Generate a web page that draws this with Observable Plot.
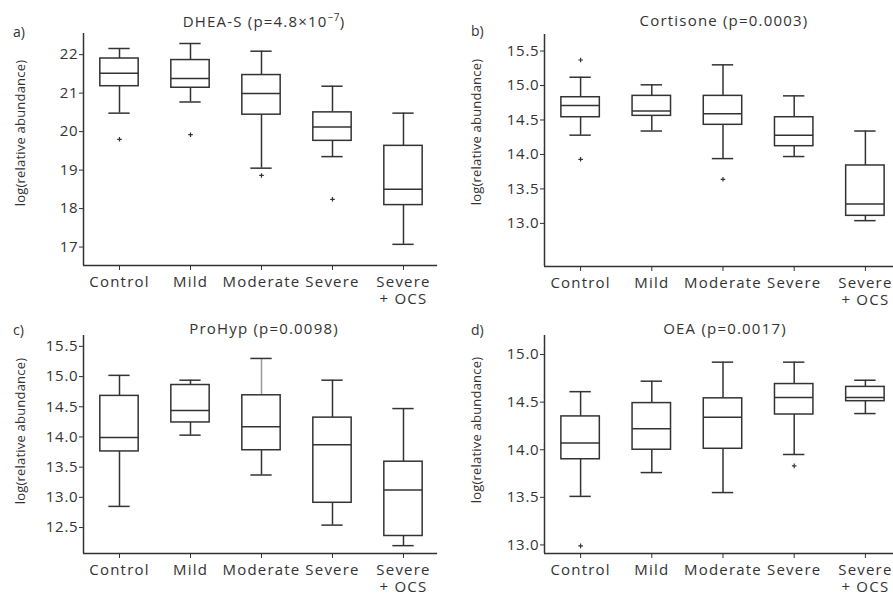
<!DOCTYPE html>
<html>
<head>
<meta charset="utf-8">
<script src="https://cdn.jsdelivr.net/npm/d3@7"></script>
<script src="https://cdn.jsdelivr.net/npm/@observablehq/plot@0.6"></script>
<style>
  html, body { margin: 0; padding: 0; background: #fff; overflow: hidden; }
  #wrap { position: relative; width: 893px; height: 593px; overflow: hidden; font-family: "Open Sans", sans-serif; color: #333; }
  .panel { position: absolute; }
  .panel svg { max-width: none !important; }
  .panel svg g[aria-label="x-axis tick label"] { letter-spacing: 1.2px; }
  .title { position: absolute; font-size: 15px; white-space: nowrap; transform: translate(-50%, -50%); letter-spacing: 1.2px; }
  .title sup { font-size: 10px; letter-spacing: 0.3px; }
  .letter { position: absolute; font-size: 14px; transform: translateY(-50%); }
  .ylab { position: absolute; font-size: 13px; white-space: nowrap; transform: translate(-50%, -50%) rotate(-90deg); letter-spacing: 0.2px; }
</style>
</head>
<body>
<div id="wrap"></div>
<script>
const groups = ["Control", "Mild", "Moderate", "Severe", "Severe\n+ OCS"];

// a) DHEA-S
const dheaLow  = [20.48, 20.77, 19.05, 19.35, 17.07];
const dheaQ1   = [21.18, 21.14, 20.44, 19.76, 18.09];
const dheaMed  = [21.52, 21.38, 20.99, 20.12, 18.50];
const dheaQ3   = [21.90, 21.86, 21.47, 20.50, 19.63];
const dheaHigh = [22.16, 22.29, 22.09, 21.18, 20.48];
const dheaOut  = [[19.80], [19.92], [18.86], [18.24], []];
const dheaTicks = [17, 18, 19, 20, 21, 22];

// b) Cortisone
const cortLow  = [14.28, 14.34, 13.94, 13.97, 13.04];
const cortQ1   = [14.54, 14.56, 14.43, 14.12, 13.11];
const cortMed  = [14.71, 14.63, 14.59, 14.28, 13.28];
const cortQ3   = [14.83, 14.85, 14.85, 14.54, 13.84];
const cortHigh = [15.12, 15.01, 15.30, 14.85, 14.34];
const cortOut  = [[15.37, 13.93], [], [13.64], [], []];
const cortTicks = [13.0, 13.5, 14.0, 14.5, 15.0, 15.5];

// c) ProHyp
const prohypLow  = [12.85, 14.03, 13.37, 12.54, 12.20];
const prohypQ1   = [13.76, 14.24, 13.78, 12.91, 12.36];
const prohypMed  = [13.99, 14.44, 14.17, 13.87, 13.12];
const prohypQ3   = [14.68, 14.86, 14.69, 14.32, 13.59];
const prohypHigh = [15.02, 14.94, 15.30, 14.94, 14.47];
const prohypOut  = [[], [], [], [], []];
const prohypTicks = [12.5, 13.0, 13.5, 14.0, 14.5, 15.0, 15.5];

// d) OEA
const oeaLow  = [13.51, 13.76, 13.55, 13.95, 14.38];
const oeaQ1   = [13.90, 14.00, 14.01, 14.37, 14.51];
const oeaMed  = [14.07, 14.22, 14.34, 14.55, 14.55];
const oeaQ3   = [14.35, 14.49, 14.54, 14.69, 14.66];
const oeaHigh = [14.61, 14.72, 14.92, 14.92, 14.73];
const oeaOut  = [[12.99], [], [], [13.83], []];
const oeaTicks = [13.0, 13.5, 14.0, 14.5, 15.0];

const yLabel = "log(relative abundance)";

const INK = "#333";
const LIGHT = "#999";
const FONT = "'Open Sans', sans-serif";
const BOX = 0.27, CAP = 0.15;
const XDOM = [-0.507, 4.479];

const panels = [
  {letter: "a)", title: "DHEA-S (p=4.8×10<sup>−7</sup>)", left: 0, top: 0, width: 446, height: 296,
   mt: 33, mb: 31, ml: 83, mr: 9, ydom: [16.52, 22.55], fmt: d3.format("d"),
   low: dheaLow, q1: dheaQ1, med: dheaMed, q3: dheaQ3, high: dheaHigh, out: dheaOut, ticks: dheaTicks,
   tx: 264, ty: 20, lx: 13, ly: 31, yx: 20, yy: 133, lightUpper: -1},
  {letter: "b)", title: "Cortisone (p=0.0003)", left: 446, top: 0, width: 462, height: 296,
   mt: 34, mb: 30, ml: 98, mr: 9, ydom: [12.375, 15.74], fmt: d3.format(".1f"),
   low: cortLow, q1: cortQ1, med: cortMed, q3: cortQ3, high: cortHigh, out: cortOut, ticks: cortTicks,
   tx: 724, ty: 20, lx: 471, ly: 30, yx: 476, yy: 132, lightUpper: -1},
  {letter: "c)", title: "ProHyp (p=0.0098)", left: 0, top: 296, width: 446, height: 297,
   mt: 39, mb: 40, ml: 83, mr: 9, ydom: [12.07, 15.68], fmt: d3.format(".1f"),
   low: prohypLow, q1: prohypQ1, med: prohypMed, q3: prohypQ3, high: prohypHigh, out: prohypOut, ticks: prohypTicks,
   tx: 264, ty: 328, lx: 13, ly: 329, yx: 20, yy: 431, lightUpper: 2},
  {letter: "d)", title: "OEA (p=0.0017)", left: 446, top: 296, width: 462, height: 297,
   mt: 39, mb: 40, ml: 98, mr: 9, ydom: [12.91, 15.2], fmt: d3.format(".1f"),
   low: oeaLow, q1: oeaQ1, med: oeaMed, q3: oeaQ3, high: oeaHigh, out: oeaOut, ticks: oeaTicks,
   tx: 725, ty: 328, lx: 471, ly: 329, yx: 476, yy: 430, lightUpper: -1}
];

const wrap = document.getElementById("wrap");

function addDiv(cls, html, x, y) {
  const el = document.createElement("div");
  el.className = cls;
  el.innerHTML = html;
  el.style.left = x + "px";
  el.style.top = y + "px";
  wrap.appendChild(el);
}

for (const p of panels) {
  const rows = groups.map((g, i) => ({i, low: p.low[i], q1: p.q1[i], med: p.med[i], q3: p.q3[i], high: p.high[i]}));
  const outs = p.out.flatMap((vals, i) => vals.map(v => ({i, v})));
  const sw = 1.5;
  const chart = Plot.plot({
    width: p.width, height: p.height,
    marginTop: p.mt, marginBottom: p.mb, marginLeft: p.ml, marginRight: p.mr,
    x: {domain: XDOM},
    y: {domain: p.ydom},
    style: {background: "transparent", overflow: "visible", color: INK, fontFamily: FONT, maxWidth: "none", letterSpacing: "0.8px"},
    marks: [
      Plot.ruleX(rows, {x: "i", y1: "low", y2: "q1", stroke: INK, strokeWidth: sw}),
      Plot.ruleX(rows, {x: "i", y1: "q3", y2: "high", stroke: d => d.i === p.lightUpper ? LIGHT : INK, strokeWidth: sw}),
      Plot.ruleY(rows, {y: "low", x1: d => d.i - CAP, x2: d => d.i + CAP, stroke: INK, strokeWidth: sw}),
      Plot.ruleY(rows, {y: "high", x1: d => d.i - CAP, x2: d => d.i + CAP, stroke: INK, strokeWidth: sw}),
      Plot.rect(rows, {x1: d => d.i - BOX, x2: d => d.i + BOX, y1: "q1", y2: "q3", fill: "white", stroke: INK, strokeWidth: sw}),
      Plot.ruleY(rows, {y: "med", x1: d => d.i - BOX, x2: d => d.i + BOX, stroke: INK, strokeWidth: sw}),
      Plot.dot(outs, {x: "i", y: "v", symbol: "plus", r: 1.6, fill: "none", stroke: INK, strokeWidth: 1.2}),
      Plot.ruleX([XDOM[0]], {stroke: INK, strokeWidth: sw}),
      Plot.ruleY([p.ydom[0]], {stroke: INK, strokeWidth: sw}),
      Plot.axisY({ticks: p.ticks, tickFormat: p.fmt, tickSize: 4, tickPadding: 1, fontSize: 15, label: null}),
      Plot.axisX({ticks: [0, 1, 2, 3, 4], tickFormat: i => groups[i], tickSize: 5, tickPadding: 4, fontSize: 15, lineHeight: 1.15, label: null})
    ]
  });
  const div = document.createElement("div");
  div.className = "panel";
  div.style.left = p.left + "px";
  div.style.top = p.top + "px";
  div.appendChild(chart);
  wrap.appendChild(div);

  addDiv("title", p.title, p.tx, p.ty);
  addDiv("letter", p.letter, p.lx, p.ly);
  addDiv("ylab", yLabel, p.yx, p.yy);
}
</script>
</body>
</html>
